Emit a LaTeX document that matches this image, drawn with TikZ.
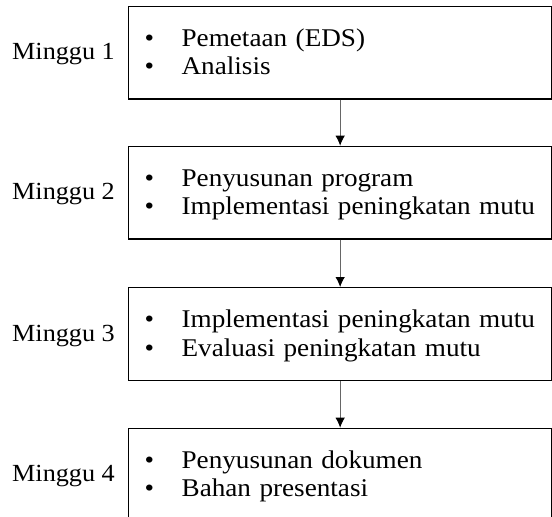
\documentclass[tikz,border=0pt]{standalone}
\usepackage{fontspec}
\setmainfont{Liberation Serif}[FakeStretch=1.065]
\usetikzlibrary{arrows.meta}
\tikzset{
  weekbox/.style={draw=black, line width=1.3pt, rectangle, anchor=north west,
    minimum width=423pt, minimum height=92.6pt, inner xsep=16pt, inner ysep=0pt,
    text width=391pt, align=left, font=\fontsize{25.5}{28.5}\selectfont},
  weeklabel/.style={anchor=base east, inner sep=0pt, xshift=-13pt, yshift=-7.3pt,
    font=\fontsize{24.6}{28.5}\selectfont},
  flow/.style={draw=black!60, line width=0.9pt, -{Latex[length=10pt,width=9.5pt,black]}}
}
\hfuzz=100pt
\newcommand{\itm}[1]{\strut\makebox[37pt][l]{\textbullet}\mbox{#1}}
\newcommand{\topstrut}{\rule{0pt}{24.5pt}}
\begin{document}
\begin{tikzpicture}[x=1pt,y=-1pt]
\useasboundingbox (0,0) rectangle (552,517);
\node[weekbox] (b1) at (128,5.7) {\topstrut\itm{Pemetaan (EDS)}\\\itm{Analisis}};
\node[weekbox] (b2) at (128,145.7) {\topstrut\itm{Penyusunan program}\\\itm{Implementasi peningkatan mutu}};
\node[weekbox] (b3) at (128,287) {\topstrut\itm{Implementasi peningkatan mutu}\\\itm{Evaluasi peningkatan mutu}};
\node[weekbox] (b4) at (128,427.7) {\topstrut\itm{Penyusunan dokumen}\\\itm{Bahan presentasi}};
\node[weeklabel] (m1) at (b1.west) {Minggu 1};
\node[weeklabel] (m2) at (b2.west) {Minggu 2};
\node[weeklabel] (m3) at (b3.west) {Minggu 3};
\node[weeklabel] (m4) at (b4.west) {Minggu 4};
\draw[flow] (b1.south) -- (b2.north);
\draw[flow] (b2.south) -- (b3.north);
\draw[flow] (b3.south) -- (b4.north);
\end{tikzpicture}
\end{document}
